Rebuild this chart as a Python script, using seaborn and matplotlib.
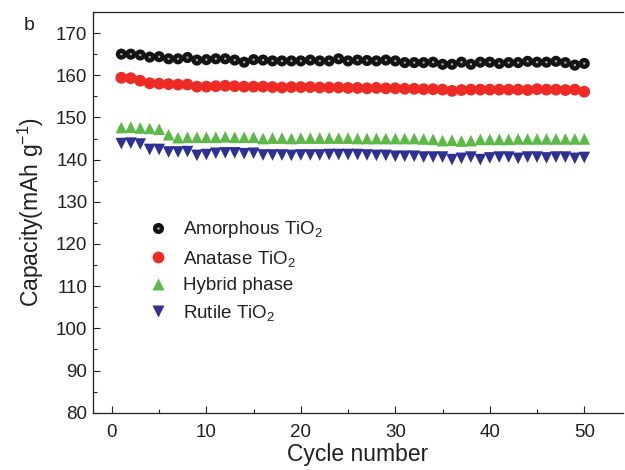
import numpy as np
import pandas as pd
import matplotlib
matplotlib.use("Agg")
import matplotlib.pyplot as plt
import seaborn as sns
from matplotlib.lines import Line2D
from matplotlib.legend_handler import HandlerTuple
from matplotlib.ticker import MultipleLocator

# Cycle index and discharge capacities (mAh/g) for the four TiO2 samples
cycles = list(range(1, 51))

amorphous = [165.0, 165.0, 164.8, 164.3, 164.4, 163.9, 163.9, 164.2, 163.6, 163.7,
             163.9, 163.9, 163.6, 163.1, 163.7, 163.6, 163.4, 163.4, 163.4, 163.4,
             163.6, 163.4, 163.4, 163.9, 163.4, 163.6, 163.5, 163.4, 163.6, 163.4,
             163.0, 163.0, 163.0, 163.1, 162.6, 162.6, 163.1, 162.6, 163.1, 163.1,
             162.8, 163.0, 163.0, 163.3, 163.1, 163.1, 163.3, 163.0, 162.4, 162.8]

anatase = [159.4, 159.3, 158.7, 158.1, 158.0, 157.9, 157.8, 157.8, 157.3, 157.3,
           157.4, 157.5, 157.4, 157.3, 157.3, 157.3, 157.2, 157.1, 157.2, 157.2,
           157.2, 157.1, 157.1, 157.1, 157.0, 157.0, 156.9, 157.0, 156.9, 156.9,
           156.8, 156.8, 156.7, 156.7, 156.6, 156.3, 156.5, 156.6, 156.6, 156.6,
           156.6, 156.6, 156.6, 156.5, 156.7, 156.6, 156.6, 156.5, 156.6, 156.1]

hybrid = [147.6, 147.7, 147.5, 147.4, 147.2, 145.9, 145.2, 145.3, 145.3, 145.3,
          145.3, 145.4, 145.3, 145.3, 145.3, 145.0, 145.1, 145.1, 145.0, 145.1,
          145.1, 145.1, 145.1, 145.1, 145.1, 145.0, 145.0, 145.0, 145.0, 145.0,
          145.0, 145.0, 144.9, 144.8, 144.5, 144.6, 144.4, 144.5, 144.8, 144.8,
          144.8, 144.8, 144.9, 144.9, 144.9, 144.9, 144.9, 144.9, 144.9, 144.9]

rutile = [143.8, 143.9, 143.7, 142.4, 142.4, 141.8, 141.8, 141.9, 141.0, 141.2,
          141.5, 141.6, 141.6, 141.4, 141.5, 141.1, 141.1, 141.1, 141.0, 141.1,
          141.1, 141.1, 141.2, 141.2, 141.2, 141.2, 141.1, 141.0, 141.0, 140.8,
          140.8, 140.8, 140.6, 140.6, 140.6, 140.0, 140.3, 140.6, 140.0, 140.4,
          140.6, 140.6, 140.3, 140.6, 140.6, 140.4, 140.6, 140.6, 140.3, 140.5]

labels = ["Amorphous TiO$_\\mathregular{2}$", "Anatase TiO$_\\mathregular{2}$",
          "Hybrid phase", "Rutile TiO$_\\mathregular{2}$"]
x_ticks = [0, 10, 20, 30, 40, 50]
y_ticks = [80, 90, 100, 110, 120, 130, 140, 150, 160, 170]

sns.set_theme(style="ticks")
plt.rcParams["font.family"] = ["Liberation Sans", "DejaVu Sans"]
plt.rcParams["mathtext.fontset"] = "custom"
plt.rcParams["mathtext.rm"] = "Liberation Sans"
plt.rcParams["mathtext.it"] = "Liberation Sans:italic"
plt.rcParams["mathtext.bf"] = "Liberation Sans:bold"
plt.rcParams["xtick.direction"] = "in"
plt.rcParams["ytick.direction"] = "in"

ink = "#231f20"
black = "#141414"
shine = "#a8a8a8"
red = "#ee2a24"
green = "#5cb947"
navy = "#2e3192"

df = pd.DataFrame({"cycle": cycles, "amorphous": amorphous, "anatase": anatase,
                   "hybrid": hybrid, "rutile": rutile})

fig = plt.figure(figsize=(6.25, 4.7), dpi=100)
ax = fig.add_axes([0.1488, 0.1219, 0.848, 0.8526])

sns.scatterplot(data=df, x="cycle", y="amorphous", marker="o", s=64, color=black,
                edgecolor="none", linewidth=0, ax=ax, zorder=3)
# glossy highlight on the spheres
sns.scatterplot(data=df, x="cycle", y="amorphous", marker="o", s=3, color=shine,
                edgecolor="none", linewidth=0, ax=ax, zorder=4)
sns.scatterplot(data=df, x="cycle", y="anatase", marker="o", s=72, color=red,
                edgecolor="none", linewidth=0, ax=ax, zorder=3)
sns.scatterplot(data=df, x="cycle", y="hybrid", marker="^", s=70, color=green,
                edgecolor="none", linewidth=0, ax=ax, zorder=3)
sns.scatterplot(data=df, x="cycle", y="rutile", marker="v", s=70, color=navy,
                edgecolor="none", linewidth=0, ax=ax, zorder=3)

ax.set_xlim(-2, 54.1)
ax.set_ylim(80, 175)
ax.set_xticks(x_ticks)
ax.set_yticks(y_ticks)
ax.xaxis.set_minor_locator(MultipleLocator(5))
ax.yaxis.set_minor_locator(MultipleLocator(5))
ax.tick_params(axis="both", which="major", direction="in", length=5, width=0.8,
               color=ink, labelsize=13.5, labelcolor=ink)
ax.tick_params(axis="both", which="minor", direction="in", length=3, width=0.8,
               color=ink)
ax.tick_params(axis="x", which="major", pad=8)
ax.tick_params(axis="y", which="major", pad=4)
ax.tick_params(top=False, right=False, which="both")
for side in ["left", "bottom", "top"]:
    ax.spines[side].set_linewidth(0.9)
    ax.spines[side].set_color(ink)
ax.spines["right"].set_visible(False)

ax.set_xlabel("Cycle number", fontsize=16.5, color=ink, labelpad=1.5)
ax.set_ylabel("Capacity(mAh g$^{\\mathregular{-1}}$)", fontsize=16.5, color=ink, labelpad=7)

fig.text(29 / 625, 1 - 25 / 470, "b", fontsize=14, color=ink, ha="center", va="center")

h_amorph = (Line2D([], [], ls="none", marker="o", ms=8, color=black, mec="none"),
            Line2D([], [], ls="none", marker="o", ms=1.8, color=shine, mec="none"))
h_anat = Line2D([], [], ls="none", marker="o", ms=8.5, color=red, mec="none")
h_hyb = Line2D([], [], ls="none", marker="^", ms=8.4, color=green, mec="none")
h_rut = Line2D([], [], ls="none", marker="v", ms=8.4, color=navy, mec="none")

leg = ax.legend([h_amorph, h_anat, h_hyb, h_rut], labels,
                handler_map={tuple: HandlerTuple(ndivide=1, pad=0)},
                loc="upper left", bbox_to_anchor=(0.081, 0.515), frameon=False,
                fontsize=13.5, handlelength=1.0, handletextpad=0.83,
                labelspacing=0.45, borderpad=0.2)
for t in leg.get_texts():
    t.set_color(ink)

fig.savefig("out.png", dpi=100)
